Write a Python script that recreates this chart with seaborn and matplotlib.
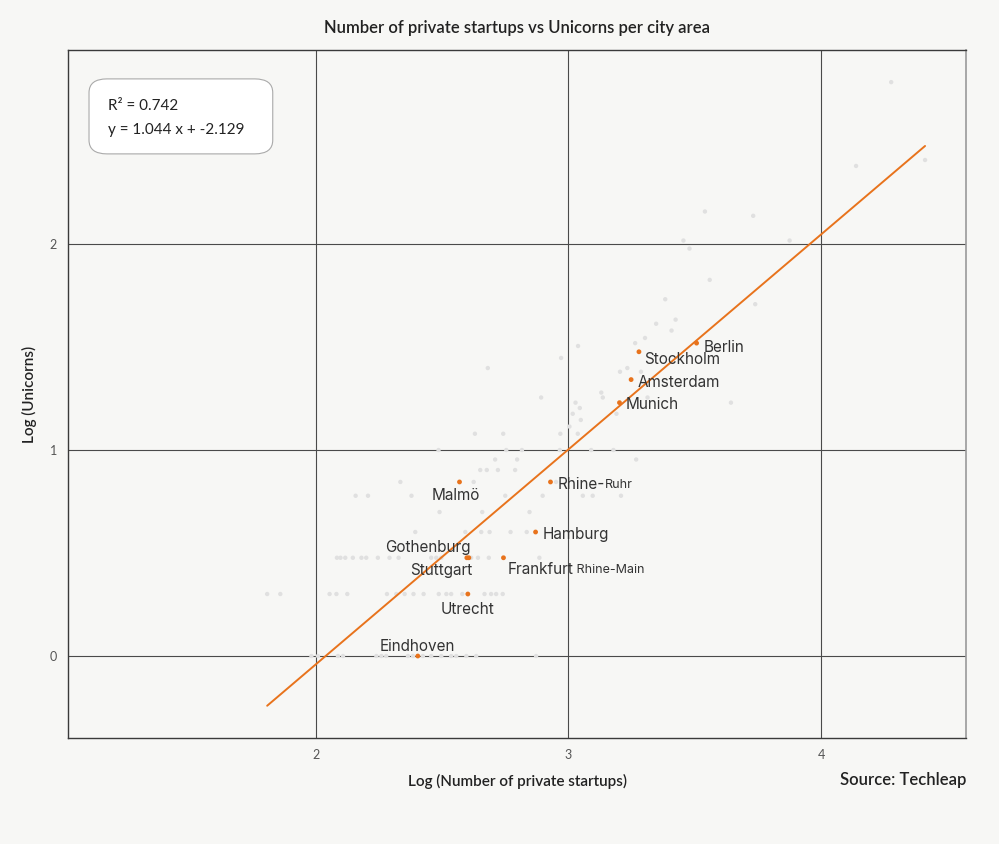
import numpy as np
import pandas as pd
import matplotlib.pyplot as plt
from matplotlib.patches import FancyBboxPatch
import seaborn as sns

# --- data (log10 values) ---
gray_x = [
    # 1 unicorn
    1.983, 2.009, 2.088, 2.108, 2.240, 2.260, 2.279, 2.365, 2.385, 2.424, 2.457, 2.497, 2.536, 2.556, 2.596, 2.635, 2.872,
    # 2
    1.808, 1.860, 2.055, 2.082, 2.125, 2.282, 2.319, 2.352, 2.387, 2.427, 2.487, 2.517, 2.536, 2.580, 2.668, 2.694, 2.714, 2.740,
    # 3
    2.084, 2.098, 2.117, 2.147, 2.181, 2.200, 2.246, 2.292, 2.328, 2.457, 2.477, 2.497, 2.615, 2.642, 2.685, 2.885,
    # 4
    2.394, 2.592, 2.655, 2.688, 2.771, 2.835,
    # 5
    2.490, 2.659, 2.846,
    # 6
    2.158, 2.207, 2.379, 2.750, 2.898, 3.057, 3.096, 3.208,
    # 7
    2.335, 2.625, 2.951,
    # 8
    2.651, 2.677, 2.721, 2.789,
    # 9
    2.710, 2.797, 3.268,
    # 10
    2.486, 2.754, 2.816, 2.966, 3.090, 3.178,
    # 12
    2.630, 2.742, 2.968, 3.037,
    # 13 and up
    3.004, 3.049, 3.017, 3.190, 3.045, 3.028, 3.643, 2.892, 3.136, 3.313, 3.130,
    3.204, 3.287, 2.681, 3.233, 2.971, 3.038, 3.264, 3.303, 3.408, 3.347, 3.424,
    3.739, 3.383, 3.559, 3.479, 3.455, 3.875, 3.731, 3.540, 4.138, 4.411, 4.277,
]
gray_y = (
    [0.0] * 17 + [0.301] * 18 + [0.477] * 16 + [0.602] * 6 + [0.699] * 3
    + [0.778] * 8 + [0.845] * 3 + [0.903] * 4 + [0.954] * 3 + [1.0] * 6 + [1.079] * 4
    + [1.114, 1.146, 1.176, 1.176, 1.204, 1.230, 1.230, 1.255, 1.255, 1.255, 1.279,
       1.380, 1.380, 1.398, 1.398, 1.447, 1.505, 1.519, 1.544, 1.580, 1.613, 1.633,
       1.708, 1.732, 1.826, 1.978, 2.017, 2.017, 2.137, 2.158, 2.379, 2.408, 2.786]
)

cities = ['Eindhoven', 'Utrecht', 'Gothenburg', 'Stuttgart', 'Frankfurt', 'Hamburg',
          'Malmö', 'Rhine-', 'Munich', 'Amsterdam', 'Stockholm', 'Berlin']
city_suffix = ['', '', '', '', 'Rhine-Main', '', '', 'Ruhr', '', '', '', '']
city_x = [2.404, 2.602, 2.598, 2.606, 2.743, 2.870, 2.569, 2.929, 3.202, 3.248, 3.279, 3.507]
city_y = [0.0, 0.301, 0.477, 0.477, 0.477, 0.602, 0.845, 0.845, 1.230, 1.342, 1.477, 1.519]

slope, intercept, r2 = 1.044, -2.129, 0.742

BG = '#f7f7f5'
ORANGE = '#e8731c'
GRAY_PT = '#e0e0e0'

sns.set_theme(style='white')
plt.rcParams['font.family'] = ['Lato', 'DejaVu Sans']

fig = plt.figure(figsize=(9.99, 8.44), dpi=100, facecolor=BG)
ax = fig.add_axes([68 / 999, 1 - 738 / 844, 898 / 999, 688 / 844])
ax.set_facecolor(BG)

ax.set_xlim(1.020, 4.573)
ax.set_ylim(-0.398, 2.942)
ax.set_xticks([2, 3, 4])
ax.set_yticks([0, 1, 2])
ax.grid(True, color='#4a4a4a', linewidth=0.8)
ax.set_axisbelow(True)

gray = pd.DataFrame({'x': gray_x, 'y': gray_y})
sns.scatterplot(data=gray, x='x', y='y', ax=ax, color=GRAY_PT, s=10,
                edgecolor='none', zorder=3)

# regression line over the range of the data
all_x = np.array(gray_x + city_x)
line_x = np.array([all_x.min(), all_x.max()])
line = pd.DataFrame({'x': line_x, 'y': slope * line_x + intercept})
sns.lineplot(data=line, x='x', y='y', ax=ax, color=ORANGE, linewidth=1.4, zorder=4)

pts = pd.DataFrame({'x': city_x, 'y': city_y})
sns.scatterplot(data=pts, x='x', y='y', ax=ax, color=ORANGE, s=12,
                edgecolor='none', zorder=5)

# label offsets in pixels, alignment
label_pos = {
    'Eindhoven': ((0, 10), 'center', 'center'),
    'Utrecht': ((0, -15), 'center', 'center'),
    'Gothenburg': ((4, 10), 'right', 'center'),
    'Stuttgart': ((4, -13), 'right', 'center'),
    'Frankfurt': ((4, -12), 'left', 'center'),
    'Hamburg': ((7, -2), 'left', 'center'),
    'Malmö': ((-4, -14), 'center', 'center'),
    'Rhine-': ((7, -3), 'left', 'center'),
    'Munich': ((6, -2), 'left', 'center'),
    'Amsterdam': ((6, -3), 'left', 'center'),
    'Stockholm': ((5, -8), 'left', 'center'),
    'Berlin': ((7, -4), 'left', 'center'),
}
lab_font = ['Inter', 'DejaVu Sans']
for name, suf, x, y in zip(cities, city_suffix, city_x, city_y):
    off, ha, va = label_pos[name]
    t = ax.annotate(name, (x, y), xytext=off, textcoords='offset pixels',
                    ha=ha, va=va, fontsize=11, color='#333333',
                    family=lab_font, zorder=6)
    if suf:
        ax.annotate(' ' + suf if name == 'Frankfurt' else suf, xy=(1, 0.08),
                    xycoords=t, ha='left', va='bottom', fontsize=9,
                    color='#333333', family=lab_font, zorder=6)

# stats box
box = FancyBboxPatch((0.0234, 0.849), 0.2046, 0.109, transform=ax.transAxes,
                     boxstyle='round,pad=0,rounding_size=0.02',
                     facecolor='white', edgecolor='#aaaaaa', linewidth=0.8, zorder=7)
ax.add_patch(box)
ax.text(0.0445, 0.919, f'R² = {r2}', transform=ax.transAxes, fontsize=11,
        color='#222222', va='center', ha='left', zorder=8)
ax.text(0.0445, 0.884, f'y = {slope} x + {intercept}', transform=ax.transAxes,
        fontsize=11, color='#222222', va='center', ha='left', zorder=8)

for side in ['left', 'bottom', 'top']:
    ax.spines[side].set_color('#3a3a3a')
    ax.spines[side].set_linewidth(1.0)
ax.spines['right'].set_color('#9a9a9a')
ax.spines['right'].set_linewidth(1.2)

ax.tick_params(axis='both', length=4, width=0.8, color='#3a3a3a',
               labelsize=9, labelcolor='#555555', pad=4)
ax.set_xlabel('Log (Number of private startups)', fontsize=11, color='#222222',
              fontweight='semibold', labelpad=9)
ax.set_ylabel('Log (Unicorns)', fontsize=11, color='#222222',
              fontweight='semibold', labelpad=9)
ax.set_title('Number of private startups vs Unicorns per city area', fontsize=12,
             color='#222222', fontweight='semibold', pad=12)
fig.text(966 / 999, 1 - 780 / 844, 'Source: Techleap', ha='right', va='center',
         fontsize=12, color='#222222', fontweight='semibold')

fig.savefig('out.png', dpi=100, facecolor=BG)
